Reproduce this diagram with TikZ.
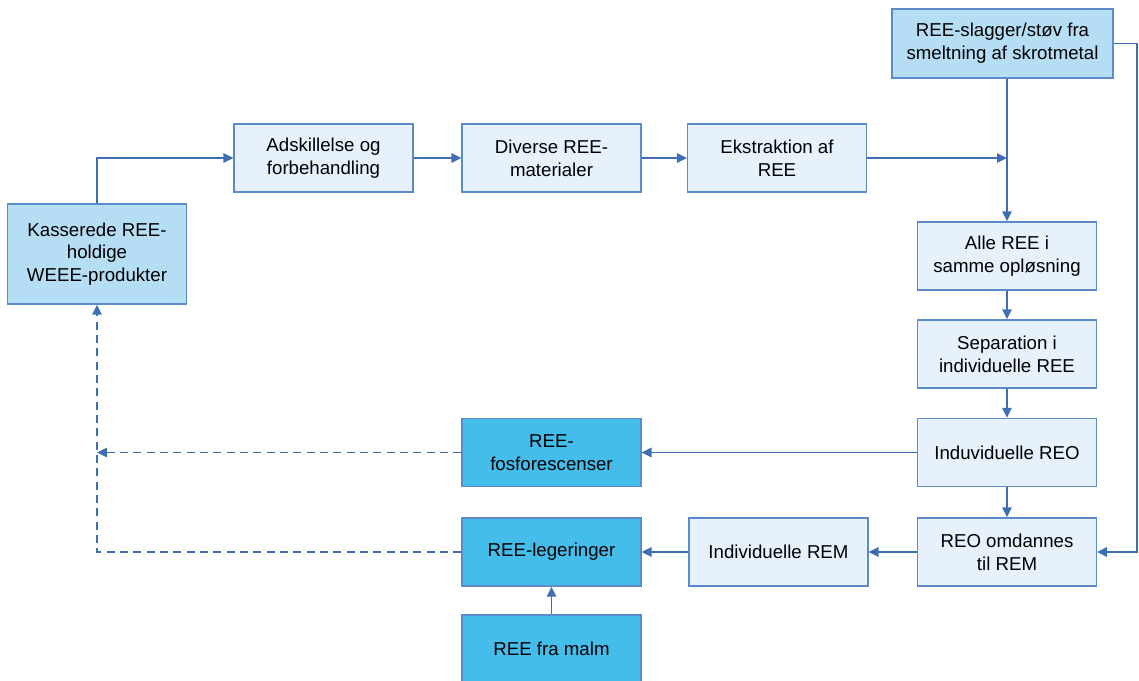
\documentclass[tikz,border=0pt]{standalone}
\usepackage{fontspec}
\setmainfont{Liberation Sans}
\usetikzlibrary{arrows.meta}
\definecolor{lys}{HTML}{E6F1FB}
\definecolor{mellem}{HTML}{B5DEF5}
\definecolor{moerk}{HTML}{45BDEA}
\definecolor{kant}{HTML}{5B8BC8}
\definecolor{pil}{HTML}{3F6FB2}

\begin{document}
\begin{tikzpicture}[x=0.75pt,y=-0.75pt,
    trin/.style={draw=kant, line width=1.1pt, fill=lys, align=center, inner sep=2pt,
      minimum width=134pt, minimum height=51pt,
      font=\fontsize{14}{17}\selectfont},
    kilde/.style={trin, fill=mellem},
    produkt/.style={trin, fill=moerk},
    flow/.style={pil, line width=1.4pt, -{Triangle[length=7.5pt,width=7pt]}},
    retur/.style={flow, dashed, dash pattern=on 6pt off 4pt}]
      \useasboundingbox (0,0) rectangle (1139,681);
      % kasser
      \node[kilde, minimum width=166pt, minimum height=52pt] (slag) at (1002.5,43.5) {REE-slagger/støv fra\\smeltning af skrotmetal};
      \node[kilde, minimum height=75pt] (kass) at (97,254) {Kasserede REE-\\holdige\\WEEE-produkter};
      \node[trin] (adsk) at (323.5,158) {Adskillelse og\\forbehandling};
      \node[trin] (div) at (551.5,158) {Diverse REE-\\materialer};
      \node[trin] (ekst) at (777,158) {Ekstraktion af\\REE};
      \node[trin] (alle) at (1007,256) {Alle REE i\\samme opløsning};
      \node[trin] (sep) at (1007,354) {Separation i\\individuelle REE};
      \node[trin] (reo) at (1007,452.5) {Induviduelle REO};
      \node[trin] (omd) at (1007,552) {REO omdannes\\til REM};
      \node[trin] (rem) at (778.5,552) {Individuelle REM};
      \node[produkt] (fosf) at (551.5,452.5) {REE-\\fosforescenser};
      \node[produkt] (leg) at (551.5,552) {REE-legeringer};
      \node[produkt] (malm) at (551.5,649) {REE fra malm};
      % hjaelpepunkter
      \coordinate (knude) at (ekst.east -| alle.north);
      \coordinate (hoejre) at (1137,0);
      \coordinate (venstre) at (kass.south);
      % forbindelser
      \draw[flow] (kass.north) |- (adsk.west);
      \draw[flow] (adsk) -- (div);
      \draw[flow] (div) -- (ekst);
      \draw[flow] (ekst.east) -- (knude);
      \draw[flow] (slag.south -| alle.north) -- (alle.north);
      \draw[flow] (alle) -- (sep);
      \draw[flow] (sep) -- (reo);
      \draw[flow] (reo) -- (omd);
      \draw[flow] (slag.east) -| (hoejre |- omd.east) -- (omd.east);
      \draw[flow] (reo) -- (fosf);
      \draw[flow] (omd) -- (rem);
      \draw[flow] (rem) -- (leg);
      \draw[flow] (malm) -- (leg);
      \draw[retur] (fosf.west) -- (venstre |- fosf.west);
      \draw[retur] (leg.west) -| (kass.south);
\end{tikzpicture}
\end{document}
